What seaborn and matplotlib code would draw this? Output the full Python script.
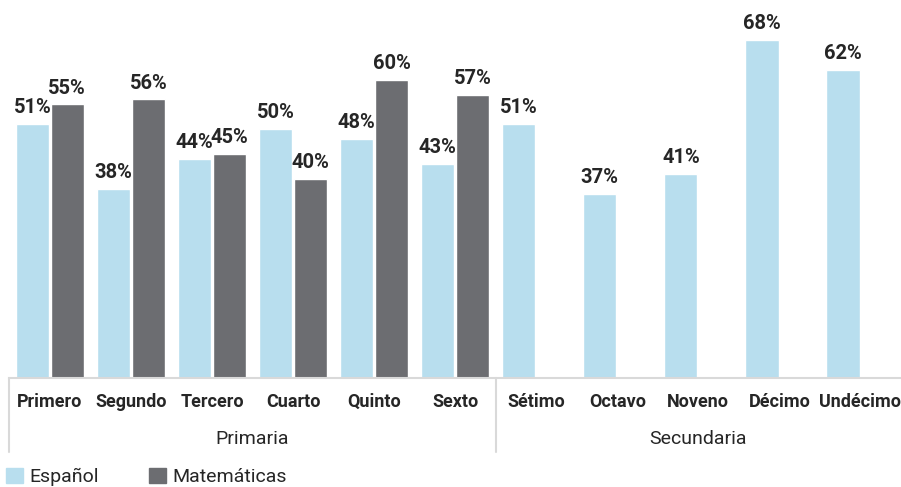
import numpy as np
import pandas as pd
import seaborn as sns
import matplotlib.pyplot as plt

# datos
grados = ["Primero", "Segundo", "Tercero", "Cuarto", "Quinto", "Sexto",
          "Sétimo", "Octavo", "Noveno", "Décimo", "Undécimo"]
espanol = [51, 38, 44, 50, 48, 43, 51, 37, 41, 68, 62]
matematicas = [55, 56, 45, 40, 60, 57]   # solo primaria
niveles = ["Primaria", "Secundaria"]
n_primaria = 6

materias = ["Español", "Matemáticas"]
colores = ["#b8deee", "#6c6d71"]

filas = []
for g, v in zip(grados, espanol):
    filas.append((g, "Español", v))
for g, v in zip(grados[:n_primaria], matematicas):
    filas.append((g, "Matemáticas", v))
df = pd.DataFrame(filas, columns=["grado", "materia", "pct"])

sns.set_style("white")
plt.rcParams['font.family'] = ['Roboto', 'DejaVu Sans']

fig = plt.figure(figsize=(9.01, 4.87), dpi=100)
ax = fig.add_axes([9.3/901, 109/487, 1 - 9.3/901, 378/487])

sns.barplot(data=df, x="grado", y="pct", hue="materia", order=grados,
            hue_order=materias, palette=colores, width=0.86, gap=0.05,
            saturation=1, legend=False, ax=ax)

for cont in ax.containers:
    ax.bar_label(cont, fmt="{:.0f}%", padding=5, fontsize=14.5,
                 fontweight="bold", color="#262626")

ax.set_ylim(0, 76)
ax.set_xlim(-0.5, len(grados) - 0.5)
ax.set_xlabel("")
ax.set_ylabel("")
ax.set_yticks([])
sns.despine(ax=ax, left=True, top=True, right=True)
ax.spines["bottom"].set_color("#d9d9d9")
ax.spines["bottom"].set_linewidth(1.5)
ax.tick_params(axis="x", length=0, pad=11, labelsize=13, labelcolor="#262626")
for t in ax.get_xticklabels():
    t.set_fontweight("bold")

# separadores y nombres de nivel
trans = ax.get_xaxis_transform()
y_bot = -(452 - 378) / 378
for xs in [-0.5, n_primaria - 0.5]:
    ax.plot([xs, xs], [0, y_bot], transform=trans, color="#d9d9d9",
            lw=1.5, clip_on=False)
centros = [(n_primaria - 1) / 2, (n_primaria + len(grados) - 1) / 2]
for c, nom in zip(centros, niveles):
    ax.text(c, -(439 - 378) / 378, nom, transform=trans, ha="center",
            va="center", fontsize=14, color="#262626")

handles = [plt.Rectangle((0, 0), 1, 1, color=c) for c in colores]
fig.legend(handles, materias, loc="lower left", bbox_to_anchor=(5/901, 0.0),
           ncol=2, frameon=False, fontsize=14, handlelength=0.85,
           handleheight=0.85, handletextpad=0.35, columnspacing=2.6,
           borderaxespad=0.0, borderpad=0.05, labelcolor="#262626")

fig.savefig("out.png", dpi=100)
